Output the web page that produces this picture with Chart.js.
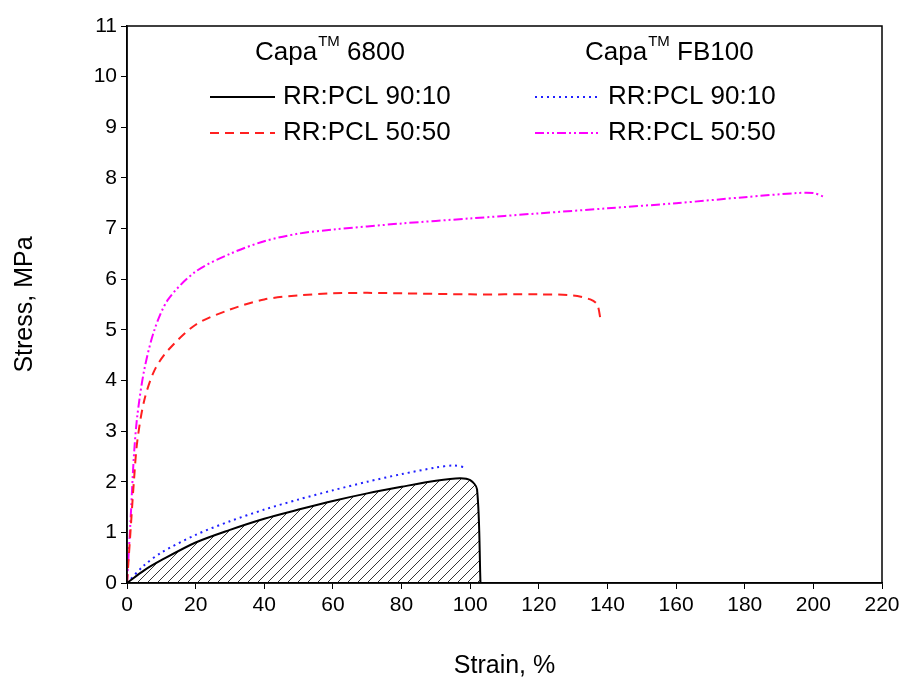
<!DOCTYPE html>
<html><head><meta charset="utf-8">
<script src="https://cdn.jsdelivr.net/npm/chart.js@4"></script>
<style>html,body{margin:0;background:#fff}#wrap{width:909px;height:677px}</style>
</head><body><div id="wrap"><canvas id="c" width="909" height="677"></canvas></div>
<script>
const black6800_90 = [[0,0],[5,0.25],[10,0.45],[20,0.8],[30,1.05],[40,1.27],[50,1.45],[60,1.62],[70,1.77],[80,1.9],[90,2.02],[97,2.07],[100,2.03],[102,1.85],[103,0]]
const blueFB_90 = [[0,0],[5,0.35],[10,0.6],[20,0.95],[30,1.22],[40,1.45],[50,1.65],[60,1.83],[70,2.0],[80,2.15],[90,2.28],[95,2.32],[99,2.28]]
const red6800_50 = [[0,0],[1,1],[2,2],[3,2.8],[5,3.6],[8,4.2],[12,4.6],[20,5.1],[30,5.4],[40,5.6],[50,5.68],[60,5.72],[70,5.73],[80,5.72],[100,5.7],[120,5.7],[130,5.68],[135,5.6],[137,5.5],[138,5.2]]
const magFB_50 = [[0,0],[1,1.2],[2,2.5],[3,3.3],[5,4.2],[8,5.0],[12,5.6],[20,6.15],[30,6.5],[40,6.75],[50,6.9],[60,6.98],[80,7.1],[100,7.2],[120,7.3],[140,7.4],[160,7.5],[180,7.62],[195,7.7],[200,7.7],[203,7.63]]

const pts = a => a.map(p => ({x: p[0], y: p[1]}))

// hatch pattern for the area under the black curve
const pc = document.createElement('canvas'); pc.width = 10; pc.height = 10
const px = pc.getContext('2d')
px.strokeStyle = '#333'; px.lineWidth = 1
px.beginPath(); px.moveTo(0,10); px.lineTo(10,0); px.moveTo(-5,5); px.lineTo(5,-5); px.moveTo(5,15); px.lineTo(15,5); px.stroke()
const hatch = document.getElementById('c').getContext('2d').createPattern(pc, 'repeat')

const legendPlugin = {
    id: 'customLegend',
    afterDraw(chart) {
        const c = chart.ctx
        c.save()
        c.fillStyle = '#000'
        c.textBaseline = 'middle'
        const head = (x, name) => {
            c.font = '26px Arial'
            c.fillText('Capa', x, 53)
            let w = c.measureText('Capa').width
            c.font = '15px Arial'
            c.fillText('TM', x + w + 1, 42)
            let w2 = c.measureText('TM').width
            c.font = '26px Arial'
            c.fillText(' ' + name, x + w + w2 + 1, 53)
        }
        head(255, '6800')
        head(585, 'FB100')
        const row = (x, y, color, dash, width, txt) => {
            c.strokeStyle = color; c.lineWidth = width; c.setLineDash(dash)
            c.beginPath(); c.moveTo(x, y); c.lineTo(x + 65, y); c.stroke()
            c.setLineDash([])
            c.font = '26px Arial'; c.fillStyle = '#000'
            c.fillText(txt, x + 73, y)
        }
        row(210, 97, '#000', [], 2, 'RR:PCL 90:10')
        row(210, 133, '#ff2020', [9, 6], 2, 'RR:PCL 50:50')
        row(535, 97, '#2020ff', [2, 4], 2, 'RR:PCL 90:10')
        row(535, 133, '#ff00ff', [9, 3, 2, 3, 2, 3], 2, 'RR:PCL 50:50')
        // frame
        const a = chart.chartArea
        c.strokeStyle = '#000'; c.lineWidth = 1.5
        c.strokeRect(a.left, a.top, a.right - a.left, a.bottom - a.top)
        c.restore()
    }
}

new Chart(document.getElementById('c'), {
    type: 'line',
    data: {
        datasets: [
            {data: pts(black6800_90), borderColor: '#000', borderWidth: 2, backgroundColor: hatch, fill: 'origin', pointRadius: 0, tension: 0.3},
            {data: pts(blueFB_90), borderColor: '#2020ff', borderWidth: 2, borderDash: [2, 4], pointRadius: 0, tension: 0.3, fill: false},
            {data: pts(red6800_50), borderColor: '#ff2020', borderWidth: 2, borderDash: [9, 6], pointRadius: 0, tension: 0.3, fill: false},
            {data: pts(magFB_50), borderColor: '#ff00ff', borderWidth: 2, borderDash: [9, 3, 2, 3, 2, 3], pointRadius: 0, tension: 0.3, fill: false}
        ]
    },
    options: {
        responsive: false,
        animation: false,
        layout: {padding: {left: 0, top: 26, right: 27, bottom: 0}},
        scales: {
            x: {
                type: 'linear', min: 0, max: 220,
                ticks: {stepSize: 20, color: '#000', font: {family: 'Arial', size: 21}, padding: 4},
                grid: {drawOnChartArea: false, color: '#000', tickLength: 6},
                border: {color: '#000', width: 1.5},
                title: {display: true, text: 'Strain, %', color: '#000', font: {family: 'Arial', size: 25}, padding: {top: 20, bottom: -4}},
                afterFit: s => { s.height = 94 }
            },
            y: {
                min: 0, max: 11,
                ticks: {stepSize: 1, color: '#000', font: {family: 'Arial', size: 21}, padding: 4},
                grid: {drawOnChartArea: false, color: '#000', tickLength: 6},
                border: {color: '#000', width: 1.5},
                title: {display: true, text: 'Stress, MPa', color: '#000', font: {family: 'Arial', size: 25}, padding: {top: 10, bottom: 6}},
                afterFit: s => { s.width = 127 }
            }
        },
        plugins: {legend: {display: false}, tooltip: {enabled: false}}
    },
    plugins: [legendPlugin]
})
</script></body></html>
